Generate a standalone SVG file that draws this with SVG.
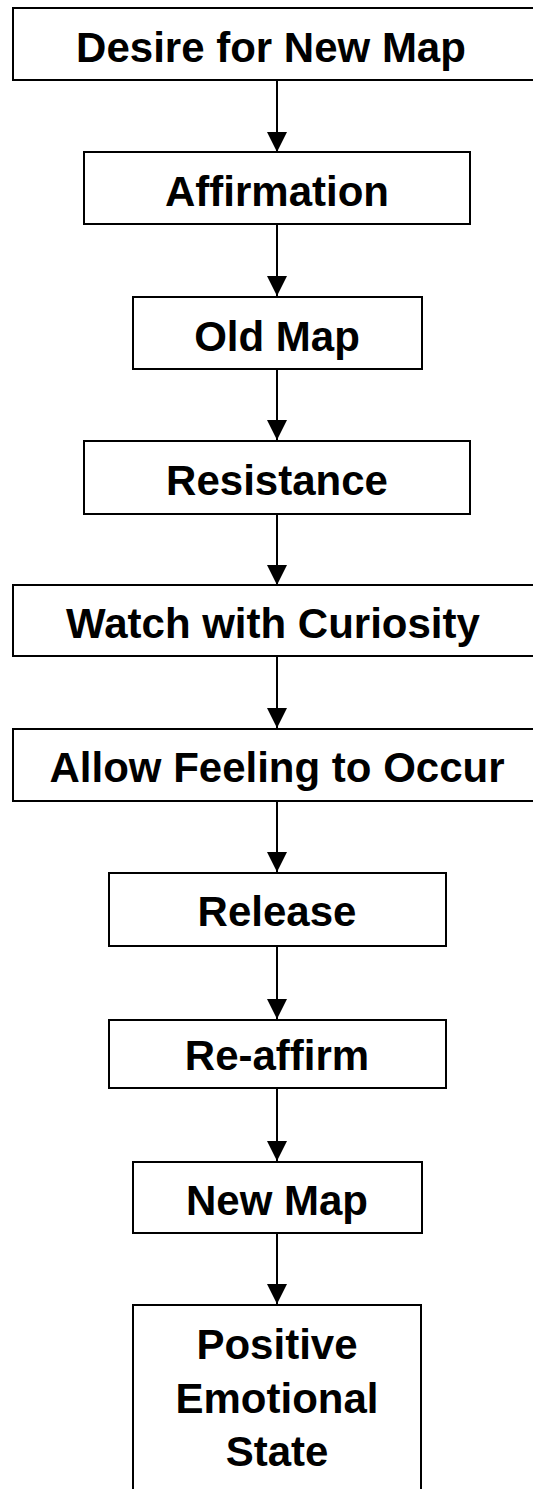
<svg xmlns="http://www.w3.org/2000/svg" width="533" height="1489" viewBox="0 0 533 1489">
<defs>
<marker id="ah" markerUnits="userSpaceOnUse" markerWidth="20" markerHeight="20" refX="20" refY="10" orient="auto" viewBox="0 0 20 20">
<path d="M0,0 L20,10 L0,20 Z" fill="#000"/>
</marker>
</defs>
<style>
.box{fill:#fff;stroke:#000;stroke-width:2}
.lbl{font-family:"Liberation Sans",Arial,sans-serif;font-weight:bold;font-size:42px;fill:#000;text-anchor:middle}
.edge{stroke:#000;stroke-width:2;fill:none}
</style>
<rect width="533" height="1489" fill="#fff"/>
<g id="connectors">
<line class="edge" x1="277" y1="80" x2="277" y2="152" marker-end="url(#ah)"/>
<line class="edge" x1="277" y1="224" x2="277" y2="296" marker-end="url(#ah)"/>
<line class="edge" x1="277" y1="369" x2="277" y2="440" marker-end="url(#ah)"/>
<line class="edge" x1="277" y1="514" x2="277" y2="585" marker-end="url(#ah)"/>
<line class="edge" x1="277" y1="656" x2="277" y2="728" marker-end="url(#ah)"/>
<line class="edge" x1="277" y1="801" x2="277" y2="872" marker-end="url(#ah)"/>
<line class="edge" x1="277" y1="946" x2="277" y2="1019" marker-end="url(#ah)"/>
<line class="edge" x1="277" y1="1088" x2="277" y2="1161" marker-end="url(#ah)"/>
<line class="edge" x1="277" y1="1233" x2="277" y2="1304" marker-end="url(#ah)"/>
</g>
<g id="n1"><rect class="box" x="13" y="8" width="530" height="72"/><text class="lbl" x="271" y="62">Desire for New Map</text></g>
<g id="n2"><rect class="box" x="84" y="152" width="386" height="72"/><text class="lbl" x="277" y="206">Affirmation</text></g>
<g id="n3"><rect class="box" x="133" y="297" width="289" height="72"/><text class="lbl" x="277" y="351">Old Map</text></g>
<g id="n4"><rect class="box" x="84" y="441" width="386" height="73"/><text class="lbl" x="277" y="495">Resistance</text></g>
<g id="n5"><rect class="box" x="13" y="585" width="530" height="71"/><text class="lbl" x="273" y="638">Watch with Curiosity</text></g>
<g id="n6"><rect class="box" x="13" y="729" width="530" height="72"/><text class="lbl" x="277" y="782">Allow Feeling to Occur</text></g>
<g id="n7"><rect class="box" x="109" y="873" width="337" height="73"/><text class="lbl" x="277" y="926">Release</text></g>
<g id="n8"><rect class="box" x="109" y="1020" width="337" height="68"/><text class="lbl" x="277" y="1070">Re-affirm</text></g>
<g id="n9"><rect class="box" x="133" y="1162" width="289" height="71"/><text class="lbl" x="277" y="1215">New Map</text></g>
<g id="n10"><rect class="box" x="133" y="1305" width="288" height="200"/><text class="lbl" x="277" y="1359">Positive</text><text class="lbl" x="277" y="1413">Emotional</text><text class="lbl" x="277" y="1466">State</text></g>
</svg>
